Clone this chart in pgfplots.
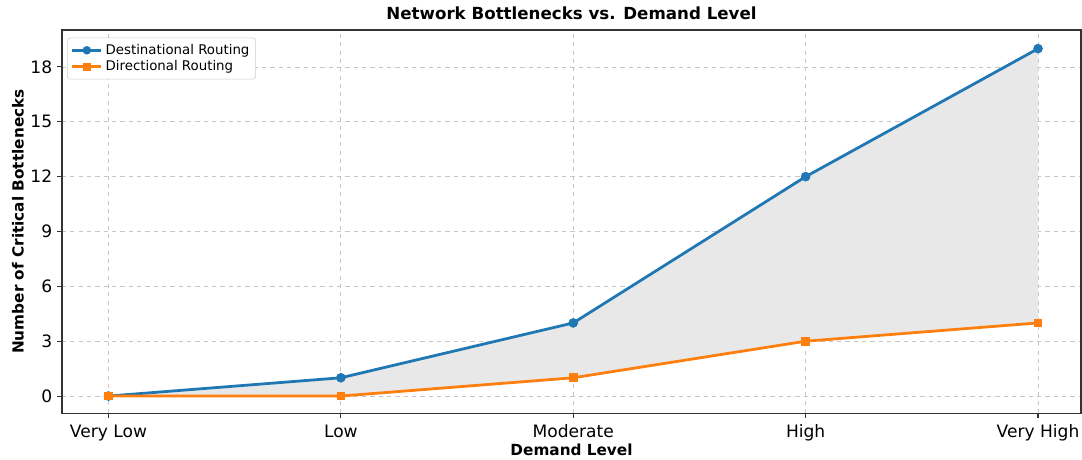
\documentclass[border=0pt]{standalone}
\usepackage{fontspec}
\setmainfont{DejaVu Sans}
\usepackage{pgfplots}
\pgfplotsset{compat=1.18}
\usepgfplotslibrary{fillbetween}
\definecolor{mblue}{HTML}{1F77B4}
\definecolor{morange}{HTML}{FF7F0E}
\definecolor{spine}{HTML}{333333}
\begin{document}
\begin{tikzpicture}
\begin{axis}[
  scale only axis, width=733.7pt, height=275.8pt,
  xmin=-0.2, xmax=4.185, ymin=-0.93, ymax=20.02,
  xtick={0,1,2,3,4}, xticklabels={Very Low,Low,Moderate,High,Very High},
  ytick={0,3,6,9,12,15,18},
  /pgf/number format/assume math mode=true,
  ticklabel style={font=\fontsize{12.3pt}{14pt}\selectfont},
  xticklabel style={yshift=-1.5pt},
  tick align=outside, tick pos=lower,
  major tick length=3.5pt,
  every tick/.style={spine, line width=0.8pt},
  axis line style={spine, line width=0.8pt},
  grid=major,
  grid style={dashed, gray!45, line width=0.6pt},
  title={\bfseries Network Bottlenecks vs. Demand Level},
  title style={font=\fontsize{12pt}{14pt}\selectfont, at={(axis description cs:0.5,1)}, anchor=south, yshift=-2pt},
  xlabel={\bfseries Demand Level},
  ylabel={\bfseries Number of Critical Bottlenecks},
  label style={font=\fontsize{11pt}{13pt}\selectfont},
  xlabel style={at={(axis description cs:0.5,-0.0966)}, anchor=center},
  ylabel style={at={(axis description cs:-0.0432,0.5)}, anchor=center},
  legend style={at={(axis description cs:0.005,0.98)}, anchor=north west,
    font=\fontsize{9.6pt}{11pt}\selectfont, draw=gray!40, rounded corners=2pt,
    inner sep=2.5pt, row sep=-1pt, cells={anchor=west}},
  legend image code/.code={\draw[mark repeat=2, mark phase=2, mark size=2pt] plot coordinates {(0cm,0cm) (0.37cm,0cm) (0.74cm,0cm)};},
  legend cell align=left,
]
\addplot[name path=A, mblue, line width=2pt, mark=*, mark size=2.4pt, mark options={solid, fill=mblue}]
  coordinates {(0,0) (1,1) (2,4) (3,12) (4,19)};
\addlegendentry{Destinational Routing}
\addplot[name path=B, morange, line width=2pt, mark=square*, mark size=2.1pt, mark options={solid, fill=morange}]
  coordinates {(0,0) (1,0) (2,1) (3,3) (4,4)};
\addlegendentry{Directional Routing}
\addplot[fill=gray!18, draw=none, forget plot] fill between[of=A and B];
\end{axis}
\pgfresetboundingbox
\path (-44.64pt,-33.12pt) rectangle (734.4pt,297.4pt);
\end{tikzpicture}
\end{document}
